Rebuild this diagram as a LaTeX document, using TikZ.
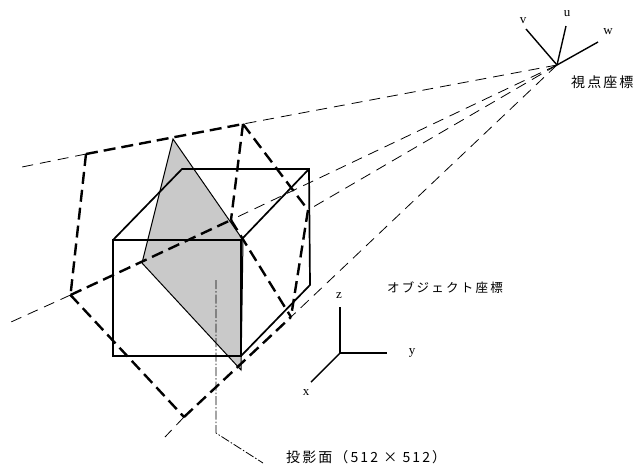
\documentclass[tikz,border=0pt]{standalone}
\usepackage{fontspec}
\setmainfont{Liberation Serif}
\newfontfamily\cjk[LetterSpace=18]{Noto Sans CJK JP}
\newfontfamily\cjkwide[LetterSpace=15]{Noto Sans CJK JP}
\begin{document}
\begin{tikzpicture}[x=1pt,y=-1pt,
  solidedge/.style={line width=1.7pt,line join=miter},
  axisline/.style={line width=1.4pt},
  raydash/.style={line width=0.8pt,dash pattern=on 11pt off 7pt},
  framedash/.style={line width=2.4pt,dash pattern=on 12pt off 6pt},
  sectionfill/.style={fill=black!21,draw=black,line width=1pt},
  leader/.style={line width=0.8pt,dash pattern=on 9pt off 2pt on 1.5pt off 2pt},
  lab/.style={inner sep=0pt,font=\fontsize{13}{14}\selectfont},
  jlab/.style={inner sep=0pt,font=\cjk\fontsize{12.5}{14}\selectfont},
  jlabwide/.style={inner sep=0pt,font=\cjkwide\fontsize{14}{15}\selectfont}]
\useasboundingbox (0,0) rectangle (637,467);
\coordinate (eye) at (557,65);
\coordinate (a) at (86,154);
\coordinate (b) at (243,124);
\coordinate (c) at (70.5,295);
\coordinate (d) at (231,220);
\coordinate (e) at (184,417);
\coordinate (g) at (291,317);
\coordinate (h) at (308,210);
\coordinate (ra) at (22,167);
\coordinate (rc) at (11,322);
\coordinate (re) at (165,437);
% section plane
\coordinate (s1) at (173,139);
\coordinate (s2) at (243,240);
\coordinate (s3) at (241,370);
\coordinate (s4) at (142,263);
\draw[sectionfill] (s1) -- (s2) -- (s3) -- (s4) -- cycle;
% rays
\draw[raydash] (eye) -- (b);
\draw[raydash] (a) -- (ra);
\draw[raydash] (eye) -- (d);
\draw[raydash] (c) -- (rc);
\draw[raydash] (eye) -- (h);
\draw[raydash] (eye) -- (g);
\draw[raydash] (e) -- (re);
% cube
\coordinate (p1) at (113,240);
\coordinate (p2) at (241,240);
\coordinate (p3) at (241,356);
\coordinate (p4) at (113,356);
\coordinate (q1) at (182,169);
\coordinate (q2) at (309,169);
\coordinate (q3) at (310,285);
\draw[solidedge] (p1) -- (p2) -- (p3) -- (p4) -- cycle;
\draw[solidedge] (p1) -- (q1) -- (q2) -- (q3) -- (p3);
\draw[solidedge] (p2) -- (q2);
% frustum
\draw[framedash] (a) -- (b);
\draw[framedash] (a) -- (c);
\draw[framedash] (c) -- (d);
\draw[framedash] (b) -- (d);
\draw[framedash] (b) -- (h);
\draw[framedash] (h) -- (g);
\draw[framedash] (d) -- (g);
\draw[framedash] (c) -- (e);
\draw[framedash] (e) -- (g);
% leader
\coordinate (l1) at (216,280);
\coordinate (l2) at (216,433);
\coordinate (l3) at (263,463);
\draw[leader] (l1) -- (l2) -- (l3);
% eye axes
\coordinate (vv) at (526,29);
\coordinate (uu) at (566,26);
\coordinate (ww) at (598,42);
\draw[axisline] (eye) -- (vv);
\draw[axisline] (eye) -- (uu);
\draw[axisline] (eye) -- (ww);
\node[lab] (tv) at (523,21) {v};
\node[lab] (tu) at (567,14) {u};
\node[lab] (tw) at (608,32) {w};
\node[jlabwide,anchor=west] (teye) at (571,82) {視点座標};
% object axes
\coordinate (o) at (340,353);
\coordinate (oz) at (340,307);
\coordinate (oy) at (387,353);
\coordinate (ox) at (311,382);
\draw[axisline] (o) -- (oz);
\draw[axisline] (o) -- (oy);
\draw[axisline] (o) -- (ox);
\node[lab] (tz) at (339,296) {z};
\node[lab] (ty) at (412,353) {y};
\node[lab] (tx) at (306,393) {x};
\node[jlab,anchor=west] (tobj) at (387,288) {オブジェクト座標};
\node[jlabwide,anchor=west] (tproj) at (286,457) {投影面（512 × 512）};
\end{tikzpicture}
\end{document}
